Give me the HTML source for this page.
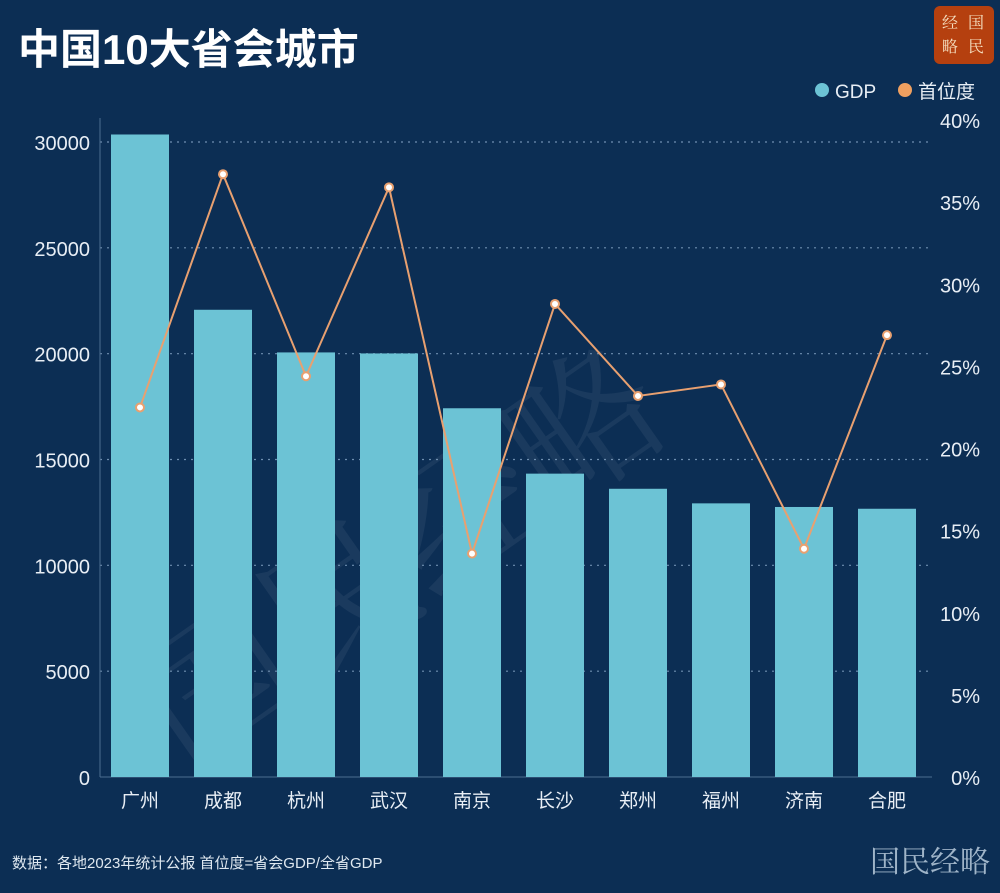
<!DOCTYPE html>
<html><head><meta charset="utf-8"><style>
body{margin:0;width:1000px;height:888px;overflow:hidden;background:#0c2e54;font-family:"Liberation Sans","Noto Sans CJK SC",sans-serif;}
</style></head><body>
<svg id="chart" width="1000" height="888" xmlns="http://www.w3.org/2000/svg">
<rect x="0" y="0" width="1000" height="888" fill="#0c2e54"/>
<text x="18" y="64" font-size="42" font-weight="bold" fill="#ffffff" font-family="'Liberation Sans','Noto Sans CJK SC',sans-serif">中国10大省会城市</text>
<g>
<rect x="934" y="6" width="60" height="58" rx="6" fill="#b5400f"/>
<text x="950" y="28" font-size="16" fill="#f5dfc0" text-anchor="middle" font-family="'Noto Serif CJK SC',serif">经</text>
<text x="976" y="28" font-size="16" fill="#f5dfc0" text-anchor="middle" font-family="'Noto Serif CJK SC',serif">国</text>
<text x="950" y="52" font-size="16" fill="#f5dfc0" text-anchor="middle" font-family="'Noto Serif CJK SC',serif">略</text>
<text x="976" y="52" font-size="16" fill="#f5dfc0" text-anchor="middle" font-family="'Noto Serif CJK SC',serif">民</text>
</g>
<g>
<circle cx="822" cy="90" r="7" fill="#6cc3d5"/>
<text x="835" y="98" font-size="19" fill="#e8eef5">GDP</text>
<circle cx="905" cy="90" r="7" fill="#f0a060"/>
<text x="918" y="98" font-size="19" fill="#e8eef5">首位度</text>
</g>
<text x="430" y="600" font-size="150" fill="#ffffff" fill-opacity="0.06" transform="rotate(-35 430 600)" text-anchor="middle" font-family="'Noto Serif CJK SC',serif">国民经略</text>
<g id="plot"></g>
<text x="12" y="868" font-size="15" fill="#dfe8f0">数据：各地2023年统计公报 首位度=省会GDP/全省GDP</text>
<text x="990" y="872" font-size="30" fill="#9fb4c8" text-anchor="end" font-family="'Noto Serif CJK SC',serif">国民经略</text>
</svg>
<script>
const categories=["广州","成都","杭州","武汉","南京","长沙","郑州","福州","济南","合肥"];
const gdpValues=[30355,22074,20059,20011,17421,14332,13617,12928,12757,12673];
const primacyValues=[22.5,36.7,24.4,35.9,13.6,28.8,23.2,23.9,13.9,26.9];
const leftTicks=[0,5000,10000,15000,20000,25000,30000];
const rightTicks=[0,5,10,15,20,25,30,35,40];
const NS="http://www.w3.org/2000/svg";
const g=document.getElementById('plot');
const y0=777;
const yL=v=>y0-v*(635/30000);
const yR=p=>y0-p*(657/40);
const xC=i=>140+i*83;
function el(t,a){const e=document.createElementNS(NS,t);for(const k in a)e.setAttribute(k,a[k]);g.appendChild(e);return e;}
leftTicks.forEach(v=>{
  if(v>0){const l=el('line',{x1:100,x2:930,y1:yL(v),y2:yL(v),stroke:'#6f8fb0','stroke-width':1.2,'stroke-dasharray':'2 5'});
  
  }
  const t=el('text',{x:90,y:yL(v)+8,'font-size':20,fill:'#e8eef5','text-anchor':'end'});t.textContent=v;
  
  
});
rightTicks.forEach(p=>{
  const t=el('text',{x:980,y:yR(p)+8,'font-size':20,fill:'#e8eef5','text-anchor':'end'});t.textContent=p+'%';
  
  
});
const ax=el('line',{x1:100,x2:100,y1:118,y2:y0,stroke:'#4d6d90','stroke-width':1});


const bx=el('line',{x1:100,x2:932,y1:y0,y2:y0,stroke:'#4d6d90','stroke-width':1});


categories.forEach((c,i)=>{
  const r=el('rect',{x:xC(i)-29,y:yL(gdpValues[i]),width:58,height:y0-yL(gdpValues[i]),fill:'#6cc3d5'});
  
  
  const t=el('text',{x:xC(i),y:807,'font-size':19,fill:'#e8eef5','text-anchor':'middle'});t.textContent=c;
  
  
});
const pts=primacyValues.map((p,i)=>xC(i)+','+yR(p)).join(' ');
const pl=el('polyline',{points:pts,fill:'none',stroke:'#e8a070','stroke-width':2});


primacyValues.forEach((p,i)=>{
  const c=el('circle',{cx:xC(i),cy:yR(p),r:4,fill:'#ffffff',stroke:'#e8a070','stroke-width':2});
  
  
});
</script>
</body></html>
